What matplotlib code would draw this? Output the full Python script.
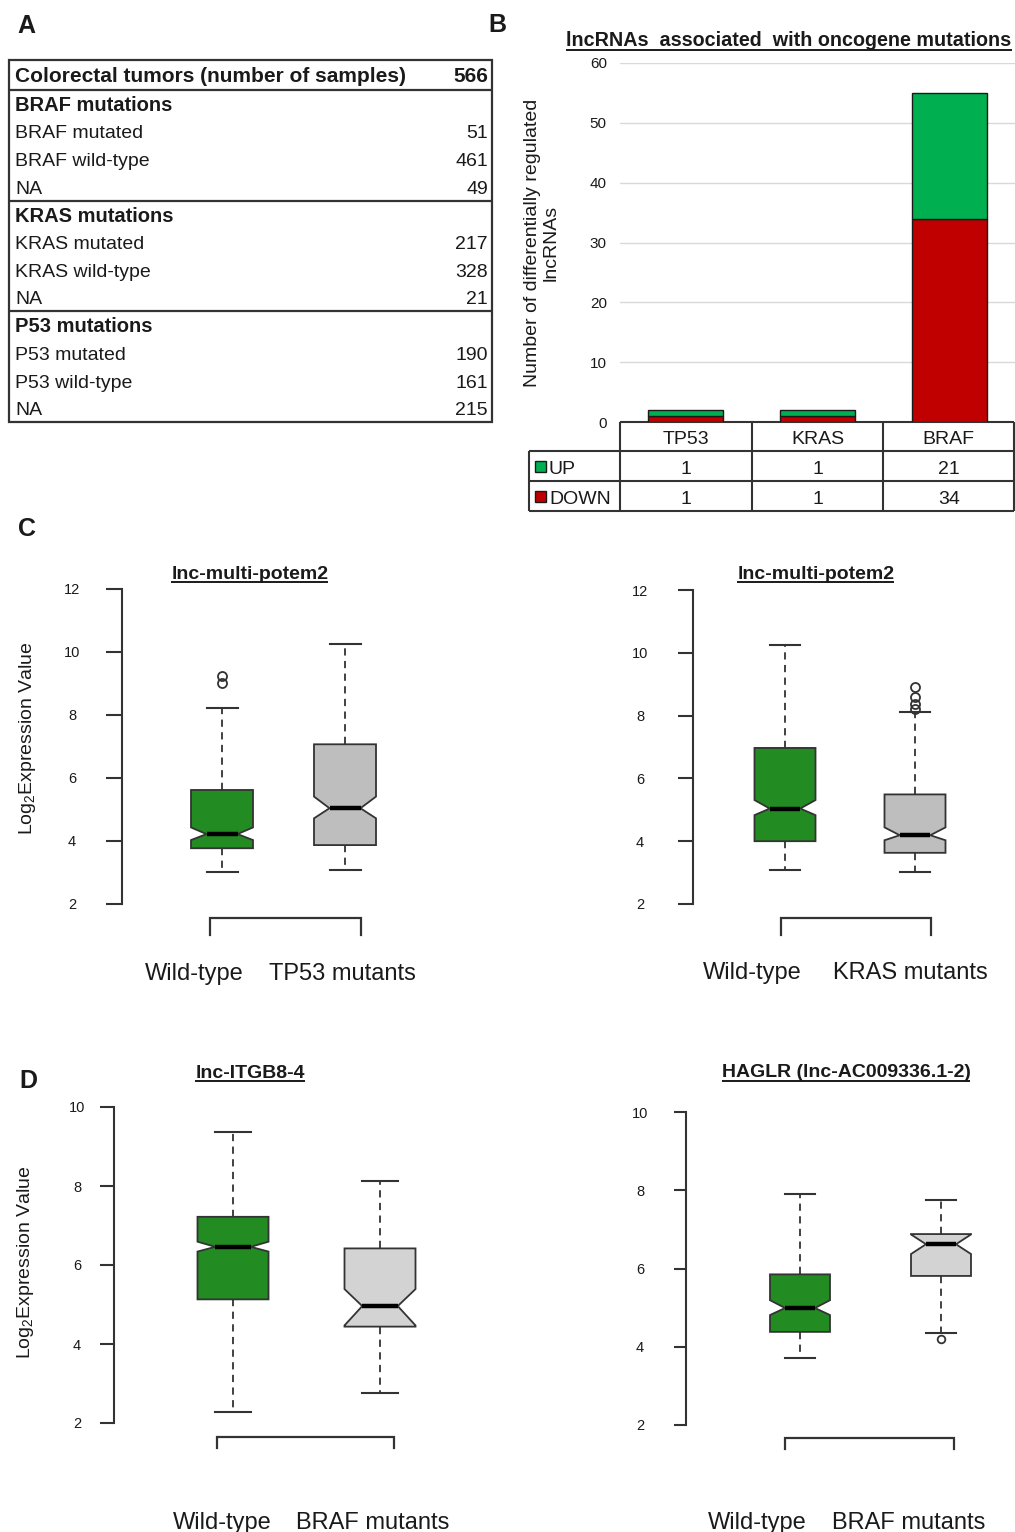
import matplotlib
matplotlib.use("Agg")
import matplotlib.pyplot as plt
from matplotlib.patches import Rectangle

plt.rcParams['font.family'] = ['Liberation Sans', 'DejaVu Sans']
plt.rcParams['mathtext.fontset'] = 'custom'
plt.rcParams['mathtext.rm'] = 'Liberation Sans'
plt.rcParams['mathtext.it'] = 'Liberation Sans:italic'
plt.rcParams['mathtext.bf'] = 'Liberation Sans:bold'

W, H = 1015, 1532
TXT = '#1a1a1a'
LINE = '#333333'

# ---------------- data ----------------
# Panel A
total_label = "Colorectal tumors (number of samples)"
total_count = 566
section_titles = ["BRAF mutations", "KRAS mutations", "P53 mutations"]
braf_rows = ["BRAF mutated", "BRAF wild-type", "NA"]
braf_counts = [51, 461, 49]
kras_rows = ["KRAS mutated", "KRAS wild-type", "NA"]
kras_counts = [217, 328, 21]
p53_rows = ["P53 mutated", "P53 wild-type", "NA"]
p53_counts = [190, 161, 215]

# Panel B
genes = ["TP53", "KRAS", "BRAF"]
up_counts = [1, 1, 21]
down_counts = [1, 1, 34]
b_yticks = [0, 10, 20, 30, 40, 50, 60]

# Panel C / D box statistics: [wild-type, mutant]
c1_title = "lnc-multi-potem2"
c1_groups = ["Wild-type", "TP53 mutants"]
c1_med = [4.22, 5.04]
c1_q1 = [3.77, 3.87]
c1_q3 = [5.62, 7.07]
c1_lo = [3.03, 3.07]
c1_hi = [8.21, 10.24]
c1_cilo = [4.03, 4.72]
c1_cihi = [4.43, 5.41]
c1_fliers = [[9.0, 9.25], []]

c2_title = "lnc-multi-potem2"
c2_groups = ["Wild-type", "KRAS mutants"]
c2_med = [5.04, 4.19]
c2_q1 = [4.0, 3.63]
c2_q3 = [6.97, 5.49]
c2_lo = [3.07, 3.03]
c2_hi = [10.24, 8.12]
c2_cilo = [4.83, 4.03]
c2_cihi = [5.31, 4.44]
c2_fliers = [[], [8.22, 8.38, 8.59, 8.9]]

d1_title = "lnc-ITGB8-4"
d1_groups = ["Wild-type", "BRAF mutants"]
d1_med = [6.46, 4.96]
d1_q1 = [5.13, 4.44]
d1_q3 = [7.22, 6.42]
d1_lo = [2.28, 2.77]
d1_hi = [9.37, 8.12]
d1_cilo = [6.34, 4.47]
d1_cihi = [6.59, 5.39]
d1_fliers = [[], []]

d2_title = "HAGLR (lnc-AC009336.1-2)"
d2_groups = ["Wild-type", "BRAF mutants"]
d2_med = [4.99, 6.62]
d2_q1 = [4.38, 5.81]
d2_q3 = [5.85, 6.88]
d2_lo = [3.70, 4.36]
d2_hi = [7.90, 7.74]
d2_cilo = [4.81, 6.37]
d2_cihi = [5.19, 6.87]
d2_fliers = [[], [4.19]]

# ---------------- figure ----------------
fig = plt.figure(figsize=(W / 100, H / 100), dpi=100)
fig.patch.set_facecolor('white')


def rect(x0, y0, x1, y1):
    return [x0 / W, 1 - y1 / H, (x1 - x0) / W, (y1 - y0) / H]


ov = fig.add_axes([0, 0, 1, 1])
ov.set_xlim(0, W)
ov.set_ylim(H, 0)
ov.axis('off')

underlined = []


def hline(x0, x1, y, lw=1.5, color=LINE):
    ov.plot([x0, x1], [y, y], color=color, lw=lw, solid_capstyle='butt')


def vline(x, y0, y1, lw=1.5, color=LINE):
    ov.plot([x, x], [y0, y1], color=color, lw=lw, solid_capstyle='butt')


# panel letters
for letter, (lx, ly) in zip("ABCD", [(26, 33), (497, 32), (27, 536), (28, 1088)]):
    ov.text(lx, ly, letter, fontsize=18, fontweight='bold', ha='center', va='baseline', color=TXT)

# ---------------- Panel A table ----------------
ax0, ax1 = 9, 492
top, hdr_bot = 60, 90
sec_h = (422 - 90) / 3.0
row_h = sec_h / 4.0
ov.add_patch(Rectangle((ax0, top), ax1 - ax0, 422 - top, fill=False, ec=LINE, lw=1.6))
hline(ax0, ax1, hdr_bot, lw=1.6)
ov.text(15, 75 + 7.5, total_label, fontsize=15, fontweight='bold', ha='left', va='baseline', color=TXT)
ov.text(488, 75 + 7.5, str(total_count), fontsize=15, fontweight='bold', ha='right', va='baseline', color=TXT)
for s, (title, rows, counts) in enumerate(zip(section_titles, [braf_rows, kras_rows, p53_rows],
                                               [braf_counts, kras_counts, p53_counts])):
    y0 = hdr_bot + s * sec_h
    if s > 0:
        hline(ax0, ax1, y0, lw=1.6)
    ov.text(15, y0 + 0.5 * row_h + 7, title, fontsize=14.5, fontweight='bold', ha='left', va='baseline', color=TXT)
    for i, (r, c) in enumerate(zip(rows, counts)):
        yc = y0 + (i + 1.5) * row_h
        ov.text(15, yc + 7, r, fontsize=14, ha='left', va='baseline', color=TXT)
        ov.text(488, yc + 7, str(c), fontsize=14, ha='right', va='baseline', color=TXT)

# ---------------- Panel B bar chart ----------------
axb = fig.add_axes(rect(620, 63, 1015, 422))
axb.set_facecolor('none')
xpos = [i + 0.5 for i in range(len(genes))]
axb.bar(xpos, down_counts, width=0.57, color='#C00000', edgecolor='#1a1a1a', lw=1.0, zorder=3)
axb.bar(xpos, up_counts, bottom=down_counts, width=0.57, color='#00B050', edgecolor='#1a1a1a', lw=1.0, zorder=3)
axb.set_xlim(0, len(genes))
axb.set_ylim(b_yticks[0], b_yticks[-1])
axb.set_yticks(b_yticks)
axb.set_xticks([])
for v in b_yticks[1:]:
    axb.axhline(v, color='#D9D9D9', lw=1.0, zorder=1)
for sp in axb.spines.values():
    sp.set_visible(False)
axb.tick_params(axis='y', length=0, pad=9.5, labelsize=11, labelcolor=TXT)
ov.text(542, 243, "Number of differentially regulated\nlncRNAs", rotation=90, fontsize=14,
        ha='center', va='center', multialignment='center', color=TXT, linespacing=1.15)
tb = ov.text(789, 46.5, "lncRNAs  associated  with oncogene mutations", fontsize=14.2, fontweight='bold',
             ha='center', va='baseline', color=TXT)
underlined.append((tb, 49.5))

# table under B
col_edges = [620 + i * (1015 - 620) / 3.0 for i in range(4)]
col_edges[-1] = 1014
hline(620, 1014, 422)
hline(529, 1014, 451)
hline(529, 1014, 481)
hline(529, 1014, 511)
vline(529, 451, 511)
for xe in col_edges:
    vline(xe, 422, 511)
for i, g in enumerate(genes):
    xc = (col_edges[i] + col_edges[i + 1]) / 2
    ov.text(xc, 436.5 + 8, g, fontsize=14, ha='center', va='baseline', color=TXT)
    ov.text(xc, 466 + 7.5, str(up_counts[i]), fontsize=14, ha='center', va='baseline', color=TXT)
    ov.text(xc, 496 + 7.5, str(down_counts[i]), fontsize=14, ha='center', va='baseline', color=TXT)
for lab, yc, colr in [("UP", 466, '#00B050'), ("DOWN", 496, '#C00000')]:
    ov.add_patch(Rectangle((535, yc - 5.5), 11, 11, fc=colr, ec='#1a1a1a', lw=1.0))
    ov.text(549, yc + 7.5, lab, fontsize=14, ha='left', va='baseline', color=TXT)


# ---------------- Box plot panels ----------------
def box_panel(spine_x, p1, p2, ytop_px, ybot_px, ymin, ymax, box_px, tick_px, lab_cx,
              med, q1, q3, lo, hi, cilo, cihi, fliers, fills, flier_ms):
    sep = float(p2 - p1)
    right_px = p2 + 110
    ax = fig.add_axes(rect(spine_x, ytop_px, right_px, ybot_px))
    ax.set_facecolor('none')
    stats = []
    for k in range(2):
        stats.append(dict(med=med[k], q1=q1[k], q3=q3[k], whislo=lo[k], whishi=hi[k],
                          cilo=cilo[k], cihi=cihi[k], fliers=fliers[k]))
    res = ax.bxp(stats, positions=[1, 2], widths=box_px / sep, shownotches=True, patch_artist=True,
                 manage_ticks=False,
                 boxprops=dict(edgecolor=LINE, linewidth=1.3),
                 medianprops=dict(color='black', linewidth=3.2, solid_capstyle='butt'),
                 whiskerprops=dict(color=LINE, linewidth=1.3, linestyle=(0, (4, 3))),
                 capprops=dict(color=LINE, linewidth=1.5),
                 flierprops=dict(marker='o', markerfacecolor='none', markeredgecolor=LINE,
                                 markersize=flier_ms, markeredgewidth=1.3))
    for b, fc in zip(res['boxes'], fills):
        b.set_facecolor(fc)
    ax.set_xlim(1 - (p1 - spine_x) / sep, 2 + 110 / sep)
    ax.set_ylim(ymin, ymax)
    ax.set_yticks(list(range(int(ymin), int(ymax) + 1, 2)))
    ax.set_xticks([])
    for name in ['top', 'right', 'bottom']:
        ax.spines[name].set_visible(False)
    ax.spines['left'].set_color(LINE)
    ax.spines['left'].set_linewidth(1.5)
    pad_px = (spine_x - tick_px) - lab_cx
    ax.tick_params(axis='y', length=tick_px * 0.72, width=1.5, color=LINE, pad=pad_px * 0.72,
                   labelsize=10.5, labelcolor=TXT)
    for t in ax.get_yticklabels():
        t.set_horizontalalignment('center')
    return ax


green = '#228B22'
box_panel(122, 222, 345, 589, 904, 2, 12, 62, 16, 72,
          c1_med, c1_q1, c1_q3, c1_lo, c1_hi, c1_cilo, c1_cihi, c1_fliers, [green, '#BEBEBE'], 6.5)
box_panel(693, 785, 915, 590, 904, 2, 12, 61, 15, 640,
          c2_med, c2_q1, c2_q3, c2_lo, c2_hi, c2_cilo, c2_cihi, c2_fliers, [green, '#BEBEBE'], 6.5)
box_panel(114, 233, 380, 1107, 1423, 2, 10, 71, 14, 77,
          d1_med, d1_q1, d1_q3, d1_lo, d1_hi, d1_cilo, d1_cihi, d1_fliers, [green, '#D3D3D3'], 6)
box_panel(686, 800, 941, 1112, 1425, 2, 10, 60, 12, 640,
          d2_med, d2_q1, d2_q3, d2_lo, d2_hi, d2_cilo, d2_cihi, d2_fliers, [green, '#D3D3D3'], 5.5)

# titles
for title, (tx, ty, uy) in zip([c1_title, c2_title, d1_title, d2_title],
                               [(250, 579, 582), (816, 579, 582), (250, 1078, 1081), (846, 1077, 1080.5)]):
    t = ov.text(tx, ty, title, fontsize=14, fontweight='bold', ha='center', va='baseline', color=TXT)
    underlined.append((t, uy))

# y labels
ov.text(28, 738, "Log$_2$Expression Value", rotation=90, fontsize=14, ha='center', va='center', color=TXT)
ov.text(26, 1262, "Log$_2$Expression Value", rotation=90, fontsize=14, ha='center', va='center', color=TXT)

# brackets
for bx0, bx1, by0, by1 in [(210, 361, 918, 935), (781, 931, 918, 935), (217, 394, 1437, 1448), (785, 954, 1438, 1449)]:
    ov.plot([bx0, bx0, bx1, bx1], [by1, by0, by0, by1], color=LINE, lw=1.6, solid_joinstyle='miter')

# group labels
for groups, (g1x, g2x, gy) in zip([c1_groups, c2_groups, d1_groups, d2_groups],
                                  [(194, 342, 980), (752, 910, 979), (222, 373, 1529), (757, 909, 1529)]):
    ov.text(g1x, gy, groups[0], fontsize=17, ha='center', va='baseline', color=TXT)
    ov.text(g2x, gy, groups[1], fontsize=17, ha='center', va='baseline', color=TXT)

# underline titles
fig.canvas.draw()
renderer = fig.canvas.get_renderer()
for t, uy in underlined:
    bb = t.get_window_extent(renderer)
    hline(bb.x0, bb.x1, uy, lw=1.4, color=TXT)

fig.savefig("out.png", dpi=100, facecolor='white')
